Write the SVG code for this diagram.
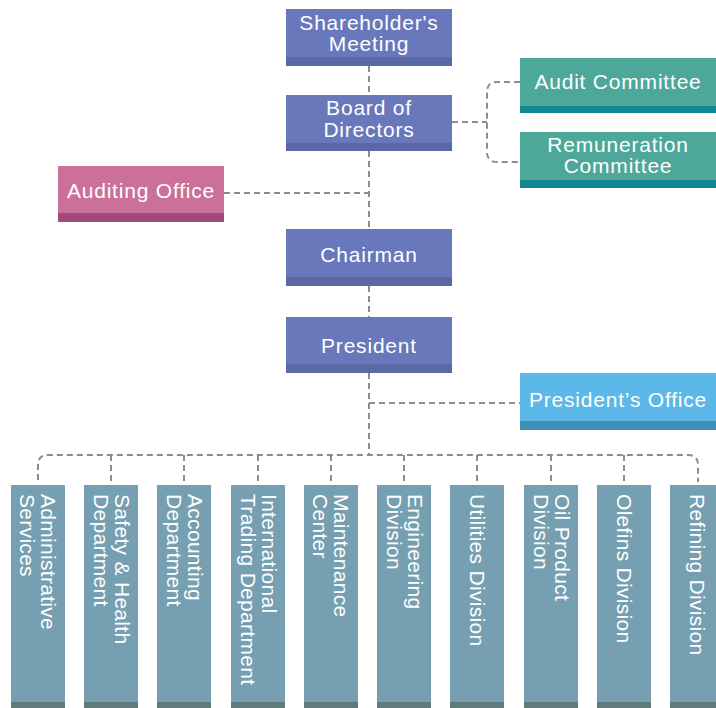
<svg xmlns="http://www.w3.org/2000/svg" width="716" height="708" viewBox="0 0 716 708">
<style>
text{font-family:"Liberation Sans",Arial,sans-serif;font-size:21px;fill:#ffffff;letter-spacing:0.8px}
text.v{letter-spacing:0.3px}
.c{text-anchor:middle}
.conn{fill:none;stroke:#8c8c8c;stroke-width:2;stroke-dasharray:6,4}
.pu{fill:#6878ba}.pus{fill:#5a68a6}
.te{fill:#4ea89a}.tes{fill:#11878f}
.pk{fill:#cb7099}.pks{fill:#a04a7a}
.lb{fill:#5bb8e8}.lbs{fill:#3e8fb5}
.gr{fill:#76a0b2}.grs{fill:#617a7a}
</style>
<g id="connectors">
<path class="conn" d="M369,66 V95"/>
<path class="conn" d="M369,151 V229"/>
<path class="conn" d="M224,193 H369"/>
<path class="conn" d="M452,122 H487"/>
<path class="conn" d="M520,82 H497 Q487,82 487,92 V152 Q487,162 497,162 H520"/>
<path class="conn" d="M369,286 V317"/>
<path class="conn" d="M369,373 V455"/>
<path class="conn" d="M369,403 H520"/>
<path class="conn" d="M38,480 V465 Q38,455 48,455 H688 Q698,455 698,465 V482"/>
<path class="conn" d="M111,455 V481 M184,455 V481 M258,455 V481 M331,455 V481 M404,455 V481 M477,455 V481 M551,455 V481 M624,455 V481"/>
</g>
<g id="shareholders">
<rect class="pu" x="286" y="9" width="166" height="57"/><rect class="pus" x="286" y="57" width="166" height="9"/>
<text class="c" x="369" y="30">Shareholder's</text><text class="c" x="369" y="51">Meeting</text>
</g>
<g id="board">
<rect class="pu" x="286" y="95" width="166" height="56"/><rect class="pus" x="286" y="143" width="166" height="8"/>
<text class="c" x="369" y="115">Board of</text><text class="c" x="369" y="137">Directors</text>
</g>
<g id="audit-committee">
<rect class="te" x="520" y="58" width="196" height="55"/><rect class="tes" x="520" y="106" width="196" height="7"/>
<text class="c" x="618" y="89">Audit Committee</text>
</g>
<g id="remuneration-committee">
<rect class="te" x="520" y="132" width="196" height="56"/><rect class="tes" x="520" y="180" width="196" height="8"/>
<text class="c" x="618" y="152">Remuneration</text><text class="c" x="618" y="173">Committee</text>
</g>
<g id="auditing-office">
<rect class="pk" x="58" y="166" width="166" height="56"/><rect class="pks" x="58" y="213" width="166" height="9"/>
<text class="c" x="141" y="198">Auditing Office</text>
</g>
<g id="chairman">
<rect class="pu" x="286" y="229" width="166" height="57"/><rect class="pus" x="286" y="277" width="166" height="9"/>
<text class="c" x="369" y="262">Chairman</text>
</g>
<g id="president">
<rect class="pu" x="286" y="317" width="166" height="56"/><rect class="pus" x="286" y="364" width="166" height="9"/>
<text class="c" x="369" y="353">President</text>
</g>
<g id="presidents-office">
<rect class="lb" x="520" y="373" width="196" height="57"/><rect class="lbs" x="520" y="421" width="196" height="9"/>
<text class="c" x="618" y="407">President’s Office</text>
</g>
<g id="administrative-services">
<rect class="gr" x="11" y="485" width="54" height="223"/><rect class="grs" x="11" y="702" width="54" height="6"/>
<text class="v" transform="translate(38,494) rotate(90)"><tspan x="0" y="-3">Administrative</tspan><tspan x="0" y="18">Services</tspan></text>
</g>
<g id="safety-health">
<rect class="gr" x="84" y="485" width="54" height="223"/><rect class="grs" x="84" y="702" width="54" height="6"/>
<text class="v" transform="translate(111,494) rotate(90)"><tspan x="0" y="-4">Safety &amp; Health</tspan><tspan x="0" y="17">Department</tspan></text>
</g>
<g id="accounting">
<rect class="gr" x="157" y="485" width="54" height="223"/><rect class="grs" x="157" y="702" width="54" height="6"/>
<text class="v" transform="translate(184,494) rotate(90)"><tspan x="0" y="-4">Accounting</tspan><tspan x="0" y="17">Department</tspan></text>
</g>
<g id="international-trading">
<rect class="gr" x="231" y="485" width="54" height="223"/><rect class="grs" x="231" y="702" width="54" height="6"/>
<text class="v" transform="translate(258,494) rotate(90)"><tspan x="0" y="-4">International</tspan><tspan x="0" y="17">Trading Department</tspan></text>
</g>
<g id="maintenance">
<rect class="gr" x="304" y="485" width="54" height="223"/><rect class="grs" x="304" y="702" width="54" height="6"/>
<text class="v" transform="translate(331,494) rotate(90)"><tspan x="0" y="-3">Maintenance</tspan><tspan x="0" y="18">Center</tspan></text>
</g>
<g id="engineering">
<rect class="gr" x="377" y="485" width="54" height="223"/><rect class="grs" x="377" y="702" width="54" height="6"/>
<text class="v" transform="translate(404,494) rotate(90)"><tspan x="0" y="-4">Engineering</tspan><tspan x="0" y="17">Division</tspan></text>
</g>
<g id="utilities">
<rect class="gr" x="450" y="485" width="54" height="223"/><rect class="grs" x="450" y="702" width="54" height="6"/>
<text class="v" transform="translate(477,494) rotate(90)" x="0" y="7">Utilities Division</text>
</g>
<g id="oil-product">
<rect class="gr" x="524" y="485" width="54" height="223"/><rect class="grs" x="524" y="702" width="54" height="6"/>
<text class="v" transform="translate(551,494) rotate(90)"><tspan x="0" y="-4">Oil Product</tspan><tspan x="0" y="17">Division</tspan></text>
</g>
<g id="olefins">
<rect class="gr" x="597" y="485" width="54" height="223"/><rect class="grs" x="597" y="702" width="54" height="6"/>
<text class="v" transform="translate(624,494) rotate(90)" x="0" y="7">Olefins Division</text>
</g>
<g id="refining">
<rect class="gr" x="670" y="485" width="54" height="223"/><rect class="grs" x="670" y="702" width="54" height="6"/>
<text class="v" transform="translate(697,494) rotate(90)" x="0" y="7">Refining Division</text>
</g>
</svg>
